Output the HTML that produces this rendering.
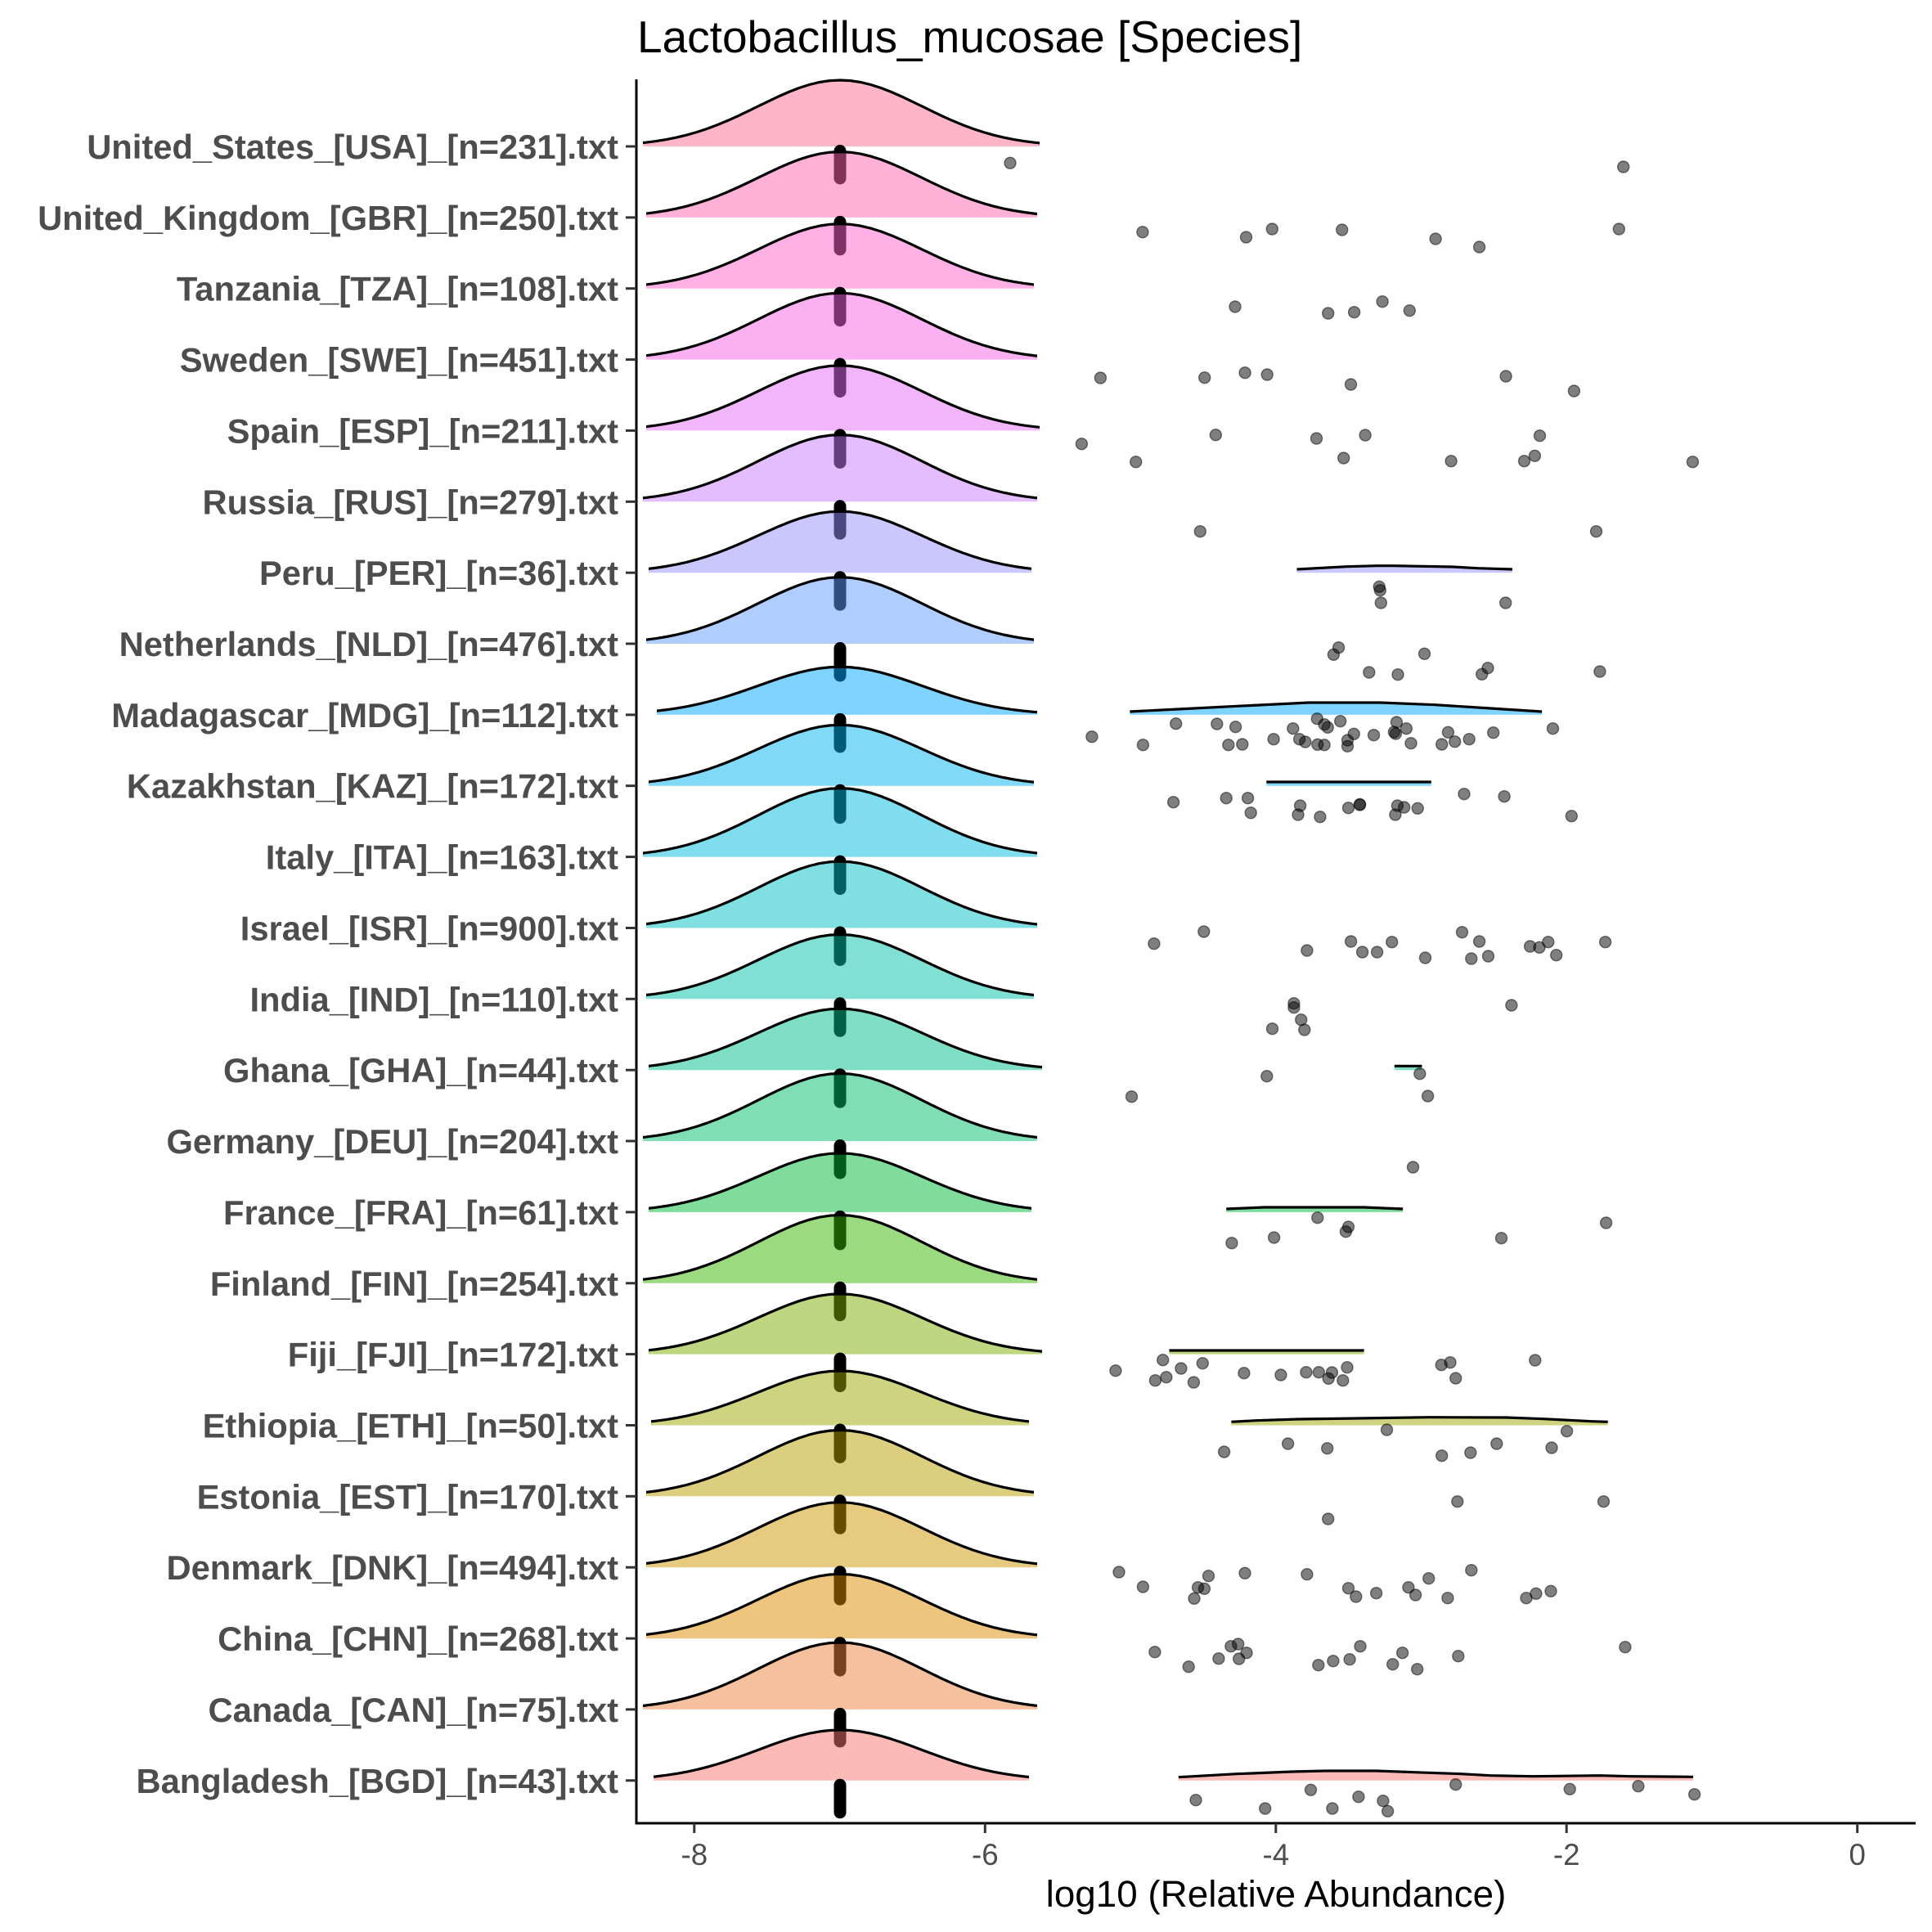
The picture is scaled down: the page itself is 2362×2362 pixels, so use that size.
<!DOCTYPE html>
<html><head><meta charset="utf-8"><style>
html,body{margin:0;padding:0;background:#fff}
svg{display:block}
.p{fill:#000;fill-opacity:.5;stroke:#000;stroke-opacity:.5;stroke-width:1.4}
.bar{fill:#000}
.sl{fill:none;stroke:#000;stroke-width:3.2;stroke-linejoin:round}
.yl{font-family:"Liberation Sans",Arial,sans-serif;font-weight:bold;font-size:41.7px;fill:#4D4D4D;text-anchor:end}
.xl{font-family:"Liberation Sans",Arial,sans-serif;font-size:36.7px;fill:#4D4D4D;text-anchor:middle}
</style></head><body>
<svg width="2362" height="2362" viewBox="0 0 2362 2362" xmlns="http://www.w3.org/2000/svg">
<defs>
<path id="gf" d="M-250,0 L-250,-0.04394 L-237.5,-0.05959 L-225,-0.07956 L-212.5,-0.10458 L-200,-0.13534 L-187.5,-0.17242 L-175,-0.21627 L-162.5,-0.26706 L-150,-0.32465 L-137.5,-0.38855 L-125,-0.45783 L-112.5,-0.5311 L-100,-0.60653 L-87.5,-0.68194 L-75,-0.75484 L-62.5,-0.82258 L-50,-0.8825 L-37.5,-0.9321 L-25,-0.96923 L-12.5,-0.99222 L0,-1 L12.5,-0.99222 L25,-0.96923 L37.5,-0.9321 L50,-0.8825 L62.5,-0.82258 L75,-0.75484 L87.5,-0.68194 L100,-0.60653 L112.5,-0.5311 L125,-0.45783 L137.5,-0.38855 L150,-0.32465 L162.5,-0.26706 L175,-0.21627 L187.5,-0.17242 L200,-0.13534 L212.5,-0.10458 L225,-0.07956 L237.5,-0.05959 L250,-0.04394 L250,0 Z"/>
<path id="gl" fill="none" stroke="#000" stroke-width="3.2" stroke-linejoin="round" vector-effect="non-scaling-stroke" d="M-250,-0.04394 L-237.5,-0.05959 L-225,-0.07956 L-212.5,-0.10458 L-200,-0.13534 L-187.5,-0.17242 L-175,-0.21627 L-162.5,-0.26706 L-150,-0.32465 L-137.5,-0.38855 L-125,-0.45783 L-112.5,-0.5311 L-100,-0.60653 L-87.5,-0.68194 L-75,-0.75484 L-62.5,-0.82258 L-50,-0.8825 L-37.5,-0.9321 L-25,-0.96923 L-12.5,-0.99222 L0,-1 L12.5,-0.99222 L25,-0.96923 L37.5,-0.9321 L50,-0.8825 L62.5,-0.82258 L75,-0.75484 L87.5,-0.68194 L100,-0.60653 L112.5,-0.5311 L125,-0.45783 L137.5,-0.38855 L150,-0.32465 L162.5,-0.26706 L175,-0.21627 L187.5,-0.17242 L200,-0.13534 L212.5,-0.10458 L225,-0.07956 L237.5,-0.05959 L250,-0.04394"/>
<clipPath id="c0"><rect x="786" y="79" width="485" height="102"/></clipPath>
<clipPath id="c1"><rect x="790" y="165.9" width="478" height="102"/></clipPath>
<clipPath id="c2"><rect x="790" y="252.7" width="474" height="102"/></clipPath>
<clipPath id="c3"><rect x="790" y="339.6" width="478" height="102"/></clipPath>
<clipPath id="c4"><rect x="790" y="426.4" width="481" height="102"/></clipPath>
<clipPath id="c5"><rect x="786" y="513.3" width="482" height="102"/></clipPath>
<clipPath id="c6"><rect x="793" y="600.2" width="468" height="102"/></clipPath>
<clipPath id="c7"><rect x="790" y="687" width="474" height="102"/></clipPath>
<clipPath id="c8"><rect x="803" y="773.9" width="465" height="102"/></clipPath>
<clipPath id="c9"><rect x="793" y="860.7" width="471" height="102"/></clipPath>
<clipPath id="c10"><rect x="786" y="947.6" width="482" height="102"/></clipPath>
<clipPath id="c11"><rect x="790" y="1034.5" width="478" height="102"/></clipPath>
<clipPath id="c12"><rect x="790" y="1121.3" width="474" height="102"/></clipPath>
<clipPath id="c13"><rect x="793" y="1208.2" width="481" height="102"/></clipPath>
<clipPath id="c14"><rect x="786" y="1295" width="482" height="102"/></clipPath>
<clipPath id="c15"><rect x="793" y="1381.9" width="468" height="102"/></clipPath>
<clipPath id="c16"><rect x="786" y="1468.8" width="482" height="102"/></clipPath>
<clipPath id="c17"><rect x="793" y="1555.6" width="481" height="102"/></clipPath>
<clipPath id="c18"><rect x="796" y="1642.5" width="462" height="102"/></clipPath>
<clipPath id="c19"><rect x="790" y="1729.3" width="474" height="102"/></clipPath>
<clipPath id="c20"><rect x="790" y="1816.2" width="478" height="102"/></clipPath>
<clipPath id="c21"><rect x="790" y="1903.1" width="478" height="102"/></clipPath>
<clipPath id="c22"><rect x="786" y="1989.9" width="482" height="102"/></clipPath>
<clipPath id="c23"><rect x="799" y="2076.8" width="459" height="102"/></clipPath>
</defs>
<rect x="0" y="0" width="2362" height="2362" fill="#fff"/>

<!-- 0 USA -->
<g clip-path="url(#c0)"><use href="#gf" transform="translate(1027,179) scale(1,81)" fill="#FF6C91" fill-opacity=".5"/><use href="#gl" transform="translate(1027,179) scale(1,81)"/></g>
<rect class="bar" x="1019.5" y="177" width="15" height="48.5" rx="7.5"/>
<circle class="p" cx="1235" cy="199.3" r="7"/><circle class="p" cx="1984.7" cy="204" r="7"/>

<!-- 1 GBR -->
<g clip-path="url(#c1)"><use href="#gf" transform="translate(1027,265.9) scale(1,80.3)" fill="#FF64B0" fill-opacity=".5"/><use href="#gl" transform="translate(1027,265.9) scale(1,80.3)"/></g>
<rect class="bar" x="1019.5" y="263.9" width="15" height="48.5" rx="7.5"/>
<circle class="p" cx="1396.9" cy="283.7" r="7"/><circle class="p" cx="1523.5" cy="290" r="7"/><circle class="p" cx="1555.3" cy="280" r="7"/><circle class="p" cx="1640.7" cy="281" r="7"/><circle class="p" cx="1755.1" cy="292" r="7"/><circle class="p" cx="1808.6" cy="302" r="7"/><circle class="p" cx="1979.3" cy="280" r="7"/>

<!-- 2 TZA -->
<g clip-path="url(#c2)"><use href="#gf" transform="translate(1027,352.7) scale(1,79)" fill="#FF61CC" fill-opacity=".5"/><use href="#gl" transform="translate(1027,352.7) scale(1,79)"/></g>
<rect class="bar" x="1019.5" y="350.7" width="15" height="48.5" rx="7.5"/>
<circle class="p" cx="1510" cy="375" r="7"/><circle class="p" cx="1623.7" cy="383" r="7"/><circle class="p" cx="1655.6" cy="381.7" r="7"/><circle class="p" cx="1690.1" cy="368.7" r="7"/><circle class="p" cx="1723.3" cy="379.7" r="7"/>

<!-- 3 SWE -->
<g clip-path="url(#c3)"><use href="#gf" transform="translate(1027,439.6) scale(1,81.3)" fill="#F564E3" fill-opacity=".5"/><use href="#gl" transform="translate(1027,439.6) scale(1,81.3)"/></g>
<rect class="bar" x="1019.5" y="437.6" width="15" height="48.5" rx="7.5"/>
<circle class="p" cx="1345.4" cy="462" r="7"/><circle class="p" cx="1472.7" cy="461.7" r="7"/><circle class="p" cx="1522.1" cy="455.7" r="7"/><circle class="p" cx="1549.2" cy="458" r="7"/><circle class="p" cx="1651.5" cy="470" r="7"/><circle class="p" cx="1841.1" cy="460" r="7"/><circle class="p" cx="1924.4" cy="478" r="7"/>

<!-- 4 ESP -->
<g clip-path="url(#c4)"><use href="#gf" transform="translate(1027,526.4) scale(1,79.5)" fill="#E36EF6" fill-opacity=".5"/><use href="#gl" transform="translate(1027,526.4) scale(1,79.5)"/></g>
<rect class="bar" x="1019.5" y="524.4" width="15" height="48.5" rx="7.5"/>
<circle class="p" cx="1322.4" cy="542.7" r="7"/><circle class="p" cx="1486.3" cy="531.7" r="7"/><circle class="p" cx="1609.5" cy="536" r="7"/><circle class="p" cx="1669.1" cy="532" r="7"/><circle class="p" cx="1882.5" cy="532.7" r="7"/><circle class="p" cx="1388.7" cy="564.7" r="7"/><circle class="p" cx="1642.7" cy="560" r="7"/><circle class="p" cx="1774.1" cy="563.7" r="7"/><circle class="p" cx="1863.5" cy="563.7" r="7"/><circle class="p" cx="1876.4" cy="557.3" r="7"/><circle class="p" cx="2069.4" cy="564.7" r="7"/>

<!-- 5 RUS -->
<g clip-path="url(#c5)"><use href="#gf" transform="translate(1027,613.3) scale(1,81.7)" fill="#C77CFF" fill-opacity=".5"/><use href="#gl" transform="translate(1027,613.3) scale(1,81.7)"/></g>
<rect class="bar" x="1019.5" y="611.3" width="15" height="48.5" rx="7.5"/>
<circle class="p" cx="1467.3" cy="649.7" r="7"/><circle class="p" cx="1951.5" cy="649.7" r="7"/>

<!-- 6 PER -->
<g clip-path="url(#c6)"><use href="#gf" transform="translate(1027,700.2) scale(1,75)" fill="#9590FF" fill-opacity=".5"/><use href="#gl" transform="translate(1027,700.2) scale(1,75)"/></g>
<path d="M1585.5,700.2 L1585.5,696 L1646.4,692.7 L1682.6,691.7 L1703.3,691.7 L1775.6,693 L1806.6,694.7 L1848.9,696 L1848.9,700.2 Z" fill="#9590FF" fill-opacity=".5"/>
<polyline class="sl" points="1585.5,696 1646.4,692.7 1682.6,691.7 1703.3,691.7 1775.6,693 1806.6,694.7 1848.9,696"/>
<rect class="bar" x="1019.5" y="698.2" width="15" height="48.5" rx="7.5"/>
<circle class="p" cx="1686.2" cy="717.3" r="7"/><circle class="p" cx="1687.3" cy="721.7" r="7"/><circle class="p" cx="1688.3" cy="737" r="7"/><circle class="p" cx="1840.7" cy="737" r="7"/>

<!-- 7 NLD -->
<g clip-path="url(#c7)"><use href="#gf" transform="translate(1027,787) scale(1,81.3)" fill="#619CFF" fill-opacity=".5"/><use href="#gl" transform="translate(1027,787) scale(1,81.3)"/></g>
<rect class="bar" x="1019.5" y="785" width="15" height="48.5" rx="7.5"/>
<circle class="p" cx="1636.6" cy="791.7" r="7"/><circle class="p" cx="1630.4" cy="800.3" r="7"/><circle class="p" cx="1741.5" cy="799.3" r="7"/><circle class="p" cx="1673.8" cy="822" r="7"/><circle class="p" cx="1709" cy="824.7" r="7"/><circle class="p" cx="1819" cy="816.7" r="7"/><circle class="p" cx="1811.7" cy="824.3" r="7"/><circle class="p" cx="1955.9" cy="821" r="7"/>

<!-- 8 MDG -->
<g clip-path="url(#c8)"><use href="#gf" transform="translate(1027,873.9) scale(1,58.6)" fill="#00A9FF" fill-opacity=".5"/><use href="#gl" transform="translate(1027,873.9) scale(1,58.6)"/></g>
<path d="M1381.4,873.9 L1381.4,870 L1450,866.5 L1512.1,863.3 L1599.9,859 L1687.8,859 L1754.9,861.7 L1806.6,865 L1885.1,870 L1885.1,873.9 Z" fill="#00A9FF" fill-opacity=".5"/>
<polyline class="sl" points="1381.4,870 1450,866.5 1512.1,863.3 1599.9,859 1687.8,859 1754.9,861.7 1806.6,865 1885.1,870"/>
<rect class="bar" x="1019.5" y="871.9" width="15" height="48.5" rx="7.5"/>
<circle class="p" cx="1334.9" cy="900.7" r="7"/><circle class="p" cx="1397.4" cy="910.7" r="7"/><circle class="p" cx="1437.7" cy="884.7" r="7"/><circle class="p" cx="1487.8" cy="885" r="7"/><circle class="p" cx="1510.6" cy="888.7" r="7"/><circle class="p" cx="1501.8" cy="910.7" r="7"/><circle class="p" cx="1518.8" cy="910" r="7"/><circle class="p" cx="1557.1" cy="903.7" r="7"/><circle class="p" cx="1580.8" cy="890.7" r="7"/><circle class="p" cx="1588.6" cy="903.7" r="7"/><circle class="p" cx="1595.8" cy="907" r="7"/><circle class="p" cx="1610.3" cy="878.7" r="7"/><circle class="p" cx="1619.1" cy="885.7" r="7"/><circle class="p" cx="1623.2" cy="889.3" r="7"/><circle class="p" cx="1610.8" cy="910.3" r="7"/><circle class="p" cx="1619.1" cy="910.7" r="7"/><circle class="p" cx="1638.7" cy="881.7" r="7"/><circle class="p" cx="1647.5" cy="905" r="7"/><circle class="p" cx="1647.5" cy="912.3" r="7"/><circle class="p" cx="1655.2" cy="897.3" r="7"/><circle class="p" cx="1679.5" cy="898.7" r="7"/><circle class="p" cx="1707.4" cy="883" r="7"/><circle class="p" cx="1704.3" cy="895" r="7"/><circle class="p" cx="1706.4" cy="897" r="7"/><circle class="p" cx="1719.3" cy="890.7" r="7"/><circle class="p" cx="1725" cy="908.7" r="7"/><circle class="p" cx="1762.7" cy="910" r="7"/><circle class="p" cx="1770.4" cy="895.3" r="7"/><circle class="p" cx="1778.7" cy="906.7" r="7"/><circle class="p" cx="1796.2" cy="903.7" r="7"/><circle class="p" cx="1825.7" cy="895.7" r="7"/><circle class="p" cx="1898.5" cy="890.7" r="7"/>

<!-- 9 KAZ -->
<g clip-path="url(#c9)"><use href="#gf" transform="translate(1027,960.7) scale(1,74.4)" fill="#00B4F0" fill-opacity=".5"/><use href="#gl" transform="translate(1027,960.7) scale(1,74.4)"/></g>
<path d="M1548.3,960.7 L1548.3,956 L1749.8,956 L1749.8,960.7 Z" fill="#00B4F0" fill-opacity=".5"/>
<polyline class="sl" points="1548.3,956 1749.8,956"/>
<rect class="bar" x="1019.5" y="958.7" width="15" height="48.5" rx="7.5"/>
<circle class="p" cx="1434.6" cy="980.7" r="7"/><circle class="p" cx="1499.2" cy="975.7" r="7"/><circle class="p" cx="1525.6" cy="975.7" r="7"/><circle class="p" cx="1529.2" cy="993.7" r="7"/><circle class="p" cx="1589.6" cy="985" r="7"/><circle class="p" cx="1587" cy="996" r="7"/><circle class="p" cx="1613.9" cy="998.7" r="7"/><circle class="p" cx="1648.5" cy="987.7" r="7"/><circle class="p" cx="1662.5" cy="983.3" r="7"/><circle class="p" cx="1662.5" cy="984" r="7"/><circle class="p" cx="1708.4" cy="985" r="7"/><circle class="p" cx="1716.7" cy="987" r="7"/><circle class="p" cx="1705.9" cy="996" r="7"/><circle class="p" cx="1733.2" cy="988.3" r="7"/><circle class="p" cx="1790" cy="970.7" r="7"/><circle class="p" cx="1839.1" cy="973.7" r="7"/><circle class="p" cx="1921.3" cy="997.7" r="7"/>

<!-- 10 ITA -->
<g clip-path="url(#c10)"><use href="#gf" transform="translate(1027,1047.6) scale(1,84)" fill="#00BBDB" fill-opacity=".5"/><use href="#gl" transform="translate(1027,1047.6) scale(1,84)"/></g>
<rect class="bar" x="1019.5" y="1045.6" width="15" height="48.5" rx="7.5"/>

<!-- 11 ISR -->
<g clip-path="url(#c11)"><use href="#gf" transform="translate(1027,1134.5) scale(1,81.4)" fill="#00BFC4" fill-opacity=".5"/><use href="#gl" transform="translate(1027,1134.5) scale(1,81.4)"/></g>
<rect class="bar" x="1019.5" y="1132.5" width="15" height="48.5" rx="7.5"/>
<circle class="p" cx="1410.9" cy="1153.7" r="7"/><circle class="p" cx="1471.8" cy="1139" r="7"/><circle class="p" cx="1597.9" cy="1162" r="7"/><circle class="p" cx="1651.6" cy="1151" r="7"/><circle class="p" cx="1665.6" cy="1164" r="7"/><circle class="p" cx="1683.6" cy="1164" r="7"/><circle class="p" cx="1701.7" cy="1151.7" r="7"/><circle class="p" cx="1742.5" cy="1171" r="7"/><circle class="p" cx="1787.5" cy="1139.7" r="7"/><circle class="p" cx="1808.6" cy="1151" r="7"/><circle class="p" cx="1798.8" cy="1172" r="7"/><circle class="p" cx="1819.5" cy="1169" r="7"/><circle class="p" cx="1870.6" cy="1157" r="7"/><circle class="p" cx="1882" cy="1158.3" r="7"/><circle class="p" cx="1892.8" cy="1151.7" r="7"/><circle class="p" cx="1902.7" cy="1167.7" r="7"/><circle class="p" cx="1962.6" cy="1151.7" r="7"/>

<!-- 12 IND -->
<g clip-path="url(#c12)"><use href="#gf" transform="translate(1027,1221.3) scale(1,78.8)" fill="#00C1A7" fill-opacity=".5"/><use href="#gl" transform="translate(1027,1221.3) scale(1,78.8)"/></g>
<rect class="bar" x="1019.5" y="1219.3" width="15" height="48.5" rx="7.5"/>
<circle class="p" cx="1581.9" cy="1226.7" r="7"/><circle class="p" cx="1581.9" cy="1231.7" r="7"/><circle class="p" cx="1590.7" cy="1246.7" r="7"/><circle class="p" cx="1555.5" cy="1257.7" r="7"/><circle class="p" cx="1594.8" cy="1259" r="7"/><circle class="p" cx="1847.9" cy="1229" r="7"/>

<!-- 13 GHA -->
<g clip-path="url(#c13)"><use href="#gf" transform="translate(1027,1308.2) scale(1,75)" fill="#00C08B" fill-opacity=".5"/><use href="#gl" transform="translate(1027,1308.2) scale(1,75)"/></g>
<path d="M1704.8,1308.2 L1704.8,1303.3 L1738.4,1303.3 L1738.4,1308.2 Z" fill="#00C08B" fill-opacity=".5"/>
<polyline class="sl" points="1704.8,1303.3 1738.4,1303.3"/>
<rect class="bar" x="1019.5" y="1306.2" width="15" height="48.5" rx="7.5"/>
<circle class="p" cx="1548.8" cy="1315.7" r="7"/><circle class="p" cx="1383.5" cy="1340.7" r="7"/><circle class="p" cx="1735.8" cy="1312.7" r="7"/><circle class="p" cx="1745.6" cy="1340" r="7"/>

<!-- 14 DEU -->
<g clip-path="url(#c14)"><use href="#gf" transform="translate(1027,1395) scale(1,82.6)" fill="#00BE67" fill-opacity=".5"/><use href="#gl" transform="translate(1027,1395) scale(1,82.6)"/></g>
<rect class="bar" x="1019.5" y="1393" width="15" height="48.5" rx="7.5"/>
<circle class="p" cx="1727.5" cy="1427" r="7"/>

<!-- 15 FRA -->
<g clip-path="url(#c15)"><use href="#gf" transform="translate(1027,1481.9) scale(1,72)" fill="#00BA38" fill-opacity=".5"/><use href="#gl" transform="translate(1027,1481.9) scale(1,72)"/></g>
<path d="M1499.2,1481.9 L1499.2,1478 L1545.7,1476 L1667.1,1476 L1715.1,1478 L1715.1,1481.9 Z" fill="#00BA38" fill-opacity=".5"/>
<polyline class="sl" points="1499.2,1478 1545.7,1476 1667.1,1476 1715.1,1478"/>
<rect class="bar" x="1019.5" y="1479.9" width="15" height="48.5" rx="7.5"/>
<circle class="p" cx="1610.8" cy="1488.7" r="7"/><circle class="p" cx="1648.5" cy="1500" r="7"/><circle class="p" cx="1645.4" cy="1505.7" r="7"/><circle class="p" cx="1557.6" cy="1513" r="7"/><circle class="p" cx="1505.9" cy="1519.7" r="7"/><circle class="p" cx="1835.5" cy="1513.7" r="7"/><circle class="p" cx="1963.6" cy="1495" r="7"/>

<!-- 16 FIN -->
<g clip-path="url(#c16)"><use href="#gf" transform="translate(1027,1568.8) scale(1,83.3)" fill="#39B600" fill-opacity=".5"/><use href="#gl" transform="translate(1027,1568.8) scale(1,83.3)"/></g>
<rect class="bar" x="1019.5" y="1566.8" width="15" height="48.5" rx="7.5"/>

<!-- 17 FJI -->
<g clip-path="url(#c17)"><use href="#gf" transform="translate(1027,1655.6) scale(1,73.7)" fill="#7CAE00" fill-opacity=".5"/><use href="#gl" transform="translate(1027,1655.6) scale(1,73.7)"/></g>
<path d="M1429.5,1655.6 L1429.5,1651 L1667.6,1651 L1667.6,1655.6 Z" fill="#7CAE00" fill-opacity=".5"/>
<polyline class="sl" points="1429.5,1651 1667.6,1651"/>
<rect class="bar" x="1019.5" y="1653.6" width="15" height="48.5" rx="7.5"/>
<circle class="p" cx="1363.9" cy="1675.7" r="7"/><circle class="p" cx="1421.7" cy="1662.7" r="7"/><circle class="p" cx="1412.4" cy="1687.7" r="7"/><circle class="p" cx="1425.9" cy="1683.7" r="7"/><circle class="p" cx="1443.9" cy="1673" r="7"/><circle class="p" cx="1470.3" cy="1666.7" r="7"/><circle class="p" cx="1459.4" cy="1690" r="7"/><circle class="p" cx="1520.9" cy="1678.7" r="7"/><circle class="p" cx="1565.9" cy="1681" r="7"/><circle class="p" cx="1596.9" cy="1677.7" r="7"/><circle class="p" cx="1612.3" cy="1677.7" r="7"/><circle class="p" cx="1628.4" cy="1678" r="7"/><circle class="p" cx="1624.2" cy="1685.3" r="7"/><circle class="p" cx="1647" cy="1671.7" r="7"/><circle class="p" cx="1641.8" cy="1687.7" r="7"/><circle class="p" cx="1762.2" cy="1668.7" r="7"/><circle class="p" cx="1773" cy="1665.7" r="7"/><circle class="p" cx="1779.7" cy="1685" r="7"/><circle class="p" cx="1876.8" cy="1663" r="7"/>

<!-- 18 ETH -->
<g clip-path="url(#c18)"><use href="#gf" transform="translate(1027,1742.5) scale(1,66.5)" fill="#9DA700" fill-opacity=".5"/><use href="#gl" transform="translate(1027,1742.5) scale(1,66.5)"/></g>
<path d="M1505.4,1742.5 L1505.4,1738.3 L1535.4,1736.7 L1587,1735 L1659.4,1734 L1747.2,1732.7 L1841.7,1733 L1886.7,1734.7 L1919.2,1736.3 L1946,1737.7 L1965.7,1738.3 L1965.7,1742.5 Z" fill="#9DA700" fill-opacity=".5"/>
<polyline class="sl" points="1505.4,1738.3 1535.4,1736.7 1587,1735 1659.4,1734 1747.2,1732.7 1841.7,1733 1886.7,1734.7 1919.2,1736.3 1946,1737.7 1965.7,1738.3"/>
<rect class="bar" x="1019.5" y="1740.5" width="15" height="48.5" rx="7.5"/>
<circle class="p" cx="1695.5" cy="1748" r="7"/><circle class="p" cx="1915.6" cy="1749.7" r="7"/><circle class="p" cx="1574.6" cy="1765" r="7"/><circle class="p" cx="1496.6" cy="1775" r="7"/><circle class="p" cx="1622.7" cy="1770.7" r="7"/><circle class="p" cx="1762.7" cy="1779.7" r="7"/><circle class="p" cx="1797.8" cy="1776" r="7"/><circle class="p" cx="1829.8" cy="1765" r="7"/><circle class="p" cx="1897" cy="1770" r="7"/>

<!-- 19 EST -->
<g clip-path="url(#c19)"><use href="#gf" transform="translate(1027,1829.3) scale(1,80.8)" fill="#B79F00" fill-opacity=".5"/><use href="#gl" transform="translate(1027,1829.3) scale(1,80.8)"/></g>
<rect class="bar" x="1019.5" y="1827.3" width="15" height="48.5" rx="7.5"/>
<circle class="p" cx="1781.8" cy="1835.7" r="7"/><circle class="p" cx="1960.5" cy="1835.7" r="7"/><circle class="p" cx="1623.7" cy="1857" r="7"/>

<!-- 20 DNK -->
<g clip-path="url(#c20)"><use href="#gf" transform="translate(1027,1916.2) scale(1,79.5)" fill="#CD9600" fill-opacity=".5"/><use href="#gl" transform="translate(1027,1916.2) scale(1,79.5)"/></g>
<rect class="bar" x="1019.5" y="1914.2" width="15" height="48.5" rx="7.5"/>
<circle class="p" cx="1368" cy="1922" r="7"/><circle class="p" cx="1397.4" cy="1940" r="7"/><circle class="p" cx="1477.5" cy="1926.7" r="7"/><circle class="p" cx="1464.6" cy="1940.7" r="7"/><circle class="p" cx="1472.4" cy="1942.3" r="7"/><circle class="p" cx="1460" cy="1954.3" r="7"/><circle class="p" cx="1522" cy="1923.3" r="7"/><circle class="p" cx="1597.9" cy="1924.7" r="7"/><circle class="p" cx="1648.5" cy="1941.7" r="7"/><circle class="p" cx="1657.8" cy="1952" r="7"/><circle class="p" cx="1682.6" cy="1947.7" r="7"/><circle class="p" cx="1721.9" cy="1940.7" r="7"/><circle class="p" cx="1730.6" cy="1950" r="7"/><circle class="p" cx="1746.7" cy="1929.7" r="7"/><circle class="p" cx="1769.9" cy="1953.7" r="7"/><circle class="p" cx="1798.8" cy="1919.7" r="7"/><circle class="p" cx="1866" cy="1953.7" r="7"/><circle class="p" cx="1877.9" cy="1948.3" r="7"/><circle class="p" cx="1896" cy="1945.3" r="7"/>

<!-- 21 CHN -->
<g clip-path="url(#c21)"><use href="#gf" transform="translate(1027,2003.1) scale(1,78.7)" fill="#DE8C00" fill-opacity=".5"/><use href="#gl" transform="translate(1027,2003.1) scale(1,78.7)"/></g>
<rect class="bar" x="1019.5" y="2001.1" width="15" height="48.5" rx="7.5"/>
<circle class="p" cx="1411.9" cy="2019.7" r="7"/><circle class="p" cx="1453.2" cy="2037.7" r="7"/><circle class="p" cx="1489.9" cy="2027.7" r="7"/><circle class="p" cx="1504.9" cy="2012.7" r="7"/><circle class="p" cx="1513.7" cy="2010" r="7"/><circle class="p" cx="1524" cy="2020.7" r="7"/><circle class="p" cx="1514.7" cy="2028" r="7"/><circle class="p" cx="1611.8" cy="2035.7" r="7"/><circle class="p" cx="1629.9" cy="2030.7" r="7"/><circle class="p" cx="1650.1" cy="2028.7" r="7"/><circle class="p" cx="1663" cy="2012.7" r="7"/><circle class="p" cx="1714.6" cy="2020.7" r="7"/><circle class="p" cx="1702.7" cy="2034.7" r="7"/><circle class="p" cx="1732.7" cy="2040.7" r="7"/><circle class="p" cx="1782.8" cy="2024.7" r="7"/><circle class="p" cx="1986.9" cy="2013.7" r="7"/>

<!-- 22 CAN -->
<g clip-path="url(#c22)"><use href="#gf" transform="translate(1027,2089.9) scale(1,81.9)" fill="#EC823C" fill-opacity=".5"/><use href="#gl" transform="translate(1027,2089.9) scale(1,81.9)"/></g>
<rect class="bar" x="1019.5" y="2087.9" width="15" height="48.5" rx="7.5"/>

<!-- 23 BGD -->
<g clip-path="url(#c23)"><use href="#gf" transform="translate(1027,2176.8) scale(1,61.8)" fill="#F8766D" fill-opacity=".5"/><use href="#gl" transform="translate(1027,2176.8) scale(1,61.8)"/></g>
<path d="M1440.8,2176.8 L1440.8,2172.7 L1512.1,2168.7 L1579.3,2166 L1620.6,2165 L1682.6,2165 L1729.1,2166.7 L1785.9,2168.7 L1822.1,2170.7 L1873.7,2171.7 L1956.4,2170.7 L1992.6,2171.7 L2070,2172.3 L2070,2176.8 Z" fill="#F8766D" fill-opacity=".5"/>
<polyline class="sl" points="1440.8,2172.7 1512.1,2168.7 1579.3,2166 1620.6,2165 1682.6,2165 1729.1,2166.7 1785.9,2168.7 1822.1,2170.7 1873.7,2171.7 1956.4,2170.7 1992.6,2171.7 2070,2172.3"/>
<rect class="bar" x="1019.5" y="2174.8" width="15" height="48.5" rx="7.5"/>
<circle class="p" cx="1462" cy="2200.7" r="7"/><circle class="p" cx="1546.7" cy="2211" r="7"/><circle class="p" cx="1602.5" cy="2188.3" r="7"/><circle class="p" cx="1628.9" cy="2211" r="7"/><circle class="p" cx="1660.9" cy="2196.7" r="7"/><circle class="p" cx="1690.9" cy="2201.7" r="7"/><circle class="p" cx="1696.6" cy="2214.3" r="7"/><circle class="p" cx="1779.7" cy="2181.7" r="7"/><circle class="p" cx="1919.2" cy="2187.3" r="7"/><circle class="p" cx="2002.9" cy="2183.7" r="7"/><circle class="p" cx="2071.6" cy="2193.7" r="7"/>

<!-- axes -->
<line x1="778" y1="97" x2="778" y2="2230.5" stroke="#000" stroke-width="3"/>
<line x1="776.5" y1="2229" x2="2342" y2="2229" stroke="#000" stroke-width="3"/>
<g stroke="#333" stroke-width="3">
<line x1="765" y1="179" x2="778" y2="179"/><line x1="765" y1="265.9" x2="778" y2="265.9"/><line x1="765" y1="352.7" x2="778" y2="352.7"/><line x1="765" y1="439.6" x2="778" y2="439.6"/><line x1="765" y1="526.4" x2="778" y2="526.4"/><line x1="765" y1="613.3" x2="778" y2="613.3"/><line x1="765" y1="700.2" x2="778" y2="700.2"/><line x1="765" y1="787" x2="778" y2="787"/><line x1="765" y1="873.9" x2="778" y2="873.9"/><line x1="765" y1="960.7" x2="778" y2="960.7"/><line x1="765" y1="1047.6" x2="778" y2="1047.6"/><line x1="765" y1="1134.5" x2="778" y2="1134.5"/><line x1="765" y1="1221.3" x2="778" y2="1221.3"/><line x1="765" y1="1308.2" x2="778" y2="1308.2"/><line x1="765" y1="1395" x2="778" y2="1395"/><line x1="765" y1="1481.9" x2="778" y2="1481.9"/><line x1="765" y1="1568.8" x2="778" y2="1568.8"/><line x1="765" y1="1655.6" x2="778" y2="1655.6"/><line x1="765" y1="1742.5" x2="778" y2="1742.5"/><line x1="765" y1="1829.3" x2="778" y2="1829.3"/><line x1="765" y1="1916.2" x2="778" y2="1916.2"/><line x1="765" y1="2003.1" x2="778" y2="2003.1"/><line x1="765" y1="2089.9" x2="778" y2="2089.9"/><line x1="765" y1="2176.8" x2="778" y2="2176.8"/>
<line x1="848.8" y1="2229" x2="848.8" y2="2241"/><line x1="1204.3" y1="2229" x2="1204.3" y2="2241"/><line x1="1559.8" y1="2229" x2="1559.8" y2="2241"/><line x1="1915.2" y1="2229" x2="1915.2" y2="2241"/><line x1="2270.7" y1="2229" x2="2270.7" y2="2241"/>
</g>

<!-- y labels -->
<text class="yl" x="756" y="194">United_States_[USA]_[n=231].txt</text>
<text class="yl" x="756" y="280.9">United_Kingdom_[GBR]_[n=250].txt</text>
<text class="yl" x="756" y="367.7">Tanzania_[TZA]_[n=108].txt</text>
<text class="yl" x="756" y="454.6">Sweden_[SWE]_[n=451].txt</text>
<text class="yl" x="756" y="541.4">Spain_[ESP]_[n=211].txt</text>
<text class="yl" x="756" y="628.3">Russia_[RUS]_[n=279].txt</text>
<text class="yl" x="756" y="715.2">Peru_[PER]_[n=36].txt</text>
<text class="yl" x="756" y="802">Netherlands_[NLD]_[n=476].txt</text>
<text class="yl" x="756" y="888.9">Madagascar_[MDG]_[n=112].txt</text>
<text class="yl" x="756" y="975.7">Kazakhstan_[KAZ]_[n=172].txt</text>
<text class="yl" x="756" y="1062.6">Italy_[ITA]_[n=163].txt</text>
<text class="yl" x="756" y="1149.5">Israel_[ISR]_[n=900].txt</text>
<text class="yl" x="756" y="1236.3">India_[IND]_[n=110].txt</text>
<text class="yl" x="756" y="1323.2">Ghana_[GHA]_[n=44].txt</text>
<text class="yl" x="756" y="1410">Germany_[DEU]_[n=204].txt</text>
<text class="yl" x="756" y="1496.9">France_[FRA]_[n=61].txt</text>
<text class="yl" x="756" y="1583.8">Finland_[FIN]_[n=254].txt</text>
<text class="yl" x="756" y="1670.6">Fiji_[FJI]_[n=172].txt</text>
<text class="yl" x="756" y="1757.5">Ethiopia_[ETH]_[n=50].txt</text>
<text class="yl" x="756" y="1844.3">Estonia_[EST]_[n=170].txt</text>
<text class="yl" x="756" y="1931.2">Denmark_[DNK]_[n=494].txt</text>
<text class="yl" x="756" y="2018.1">China_[CHN]_[n=268].txt</text>
<text class="yl" x="756" y="2104.9">Canada_[CAN]_[n=75].txt</text>
<text class="yl" x="756" y="2191.8">Bangladesh_[BGD]_[n=43].txt</text>

<!-- x labels -->
<text class="xl" x="848.8" y="2280">-8</text>
<text class="xl" x="1204.3" y="2280">-6</text>
<text class="xl" x="1559.8" y="2280">-4</text>
<text class="xl" x="1915.2" y="2280">-2</text>
<text class="xl" x="2270.7" y="2280">0</text>

<text x="1560" y="2331" font-family="Liberation Sans, Arial, sans-serif" font-size="45.8" fill="#000" text-anchor="middle">log10 (Relative Abundance)</text>
<text x="779" y="64" font-family="Liberation Sans, Arial, sans-serif" font-size="55" fill="#000">Lactobacillus_mucosae [Species]</text>
</svg>
</body></html>
